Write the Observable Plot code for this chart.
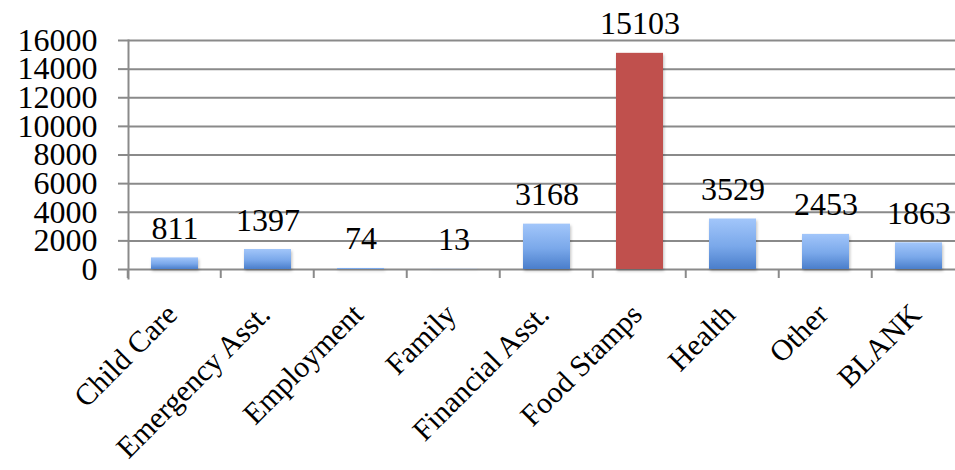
<!DOCTYPE html>
<html>
<head>
<meta charset="utf-8">
<script src="https://cdn.jsdelivr.net/npm/d3@7"></script>
<script src="https://cdn.jsdelivr.net/npm/@observablehq/plot@0.6"></script>
<style>
  html, body { margin: 0; padding: 0; background: #fff; overflow: hidden; }
  .bars rect { filter: drop-shadow(1px 2px 1.5px rgba(0,0,0,0.25)); }
</style>
</head>
<body>
<div id="chart"></div>
<script>
const categories = ["Child Care", "Emergency Asst.", "Employment", "Family", "Financial Asst.", "Food Stamps", "Health", "Other", "BLANK"];
const counts = [811, 1397, 74, 13, 3168, 15103, 3529, 2453, 1863];
const yTicks = [0, 2000, 4000, 6000, 8000, 10000, 12000, 14000, 16000];
const highlight = "Food Stamps";

const data = categories.map((c, i) => ({cat: c, count: counts[i]}));

const grey = "#8a8a8a";
const red = "#c0504d";
const font = "'Liberation Serif', 'Times New Roman', serif";
const fs = 32;

const defs = () => {
  const g = d3.create("svg:defs");
  const lg = g.append("linearGradient").attr("id", "barGrad")
    .attr("x1", 0).attr("y1", 0).attr("x2", 0).attr("y2", 1);
  lg.append("stop").attr("offset", "0%").attr("stop-color", "#a2c6fa");
  lg.append("stop").attr("offset", "55%").attr("stop-color", "#7aa8ea");
  lg.append("stop").attr("offset", "100%").attr("stop-color", "#4a7ecb");
  return g.node();
};

const boundaryTicks = (index, scales) => {
  const x = scales.x, y = scales.y;
  const step = x(categories[1]) - x(categories[0]);
  const g = d3.create("svg:g").attr("stroke", grey).attr("stroke-width", 2);
  categories.forEach(c => {
    const bx = x(c) - step * 0.25;
    g.append("line").attr("x1", bx).attr("x2", bx)
      .attr("y1", y(0)).attr("y2", y(0) + 9);
  });
  return g.node();
};

const chart = Plot.plot({
  width: 955,
  height: 470,
  marginLeft: 128,
  marginRight: 0,
  marginTop: 40,
  marginBottom: 201,
  style: {fontFamily: font, fontSize: fs + "px", color: "black", background: "white", overflow: "visible"},
  x: {domain: categories, range: [128, 965], paddingInner: 0.5, paddingOuter: 0.25, label: null},
  y: {domain: [0, 16000], label: null},
  color: {type: "identity"},
  marks: [
    defs,
    Plot.gridY(yTicks, {stroke: grey, strokeOpacity: 1, strokeWidth: 2}),
    Plot.axisY(yTicks, {tickSize: 10, tickPadding: 21, stroke: grey, strokeWidth: 2, fontSize: fs, tickFormat: d => String(d), label: null}),
    Plot.frame({anchor: "left", stroke: grey, strokeWidth: 2, insetBottom: -9}),
    boundaryTicks,
    Plot.barY(data, {x: "cat", y: "count", fill: d => d.cat === highlight ? red : "url(#barGrad)", className: "bars"}),
    Plot.text(data, {x: "cat", y: "count", text: d => String(d.count), dy: -19, lineAnchor: "bottom", fontSize: fs}),
    Plot.axisX({tickSize: 0, tickRotate: -45, tickPadding: 40, dx: -3, fontSize: 30, label: null})
  ]
});

document.getElementById("chart").appendChild(chart);
</script>
</body>
</html>
